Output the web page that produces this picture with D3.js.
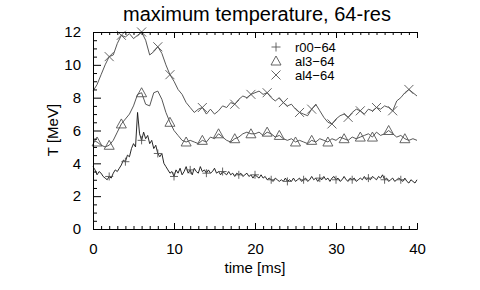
<!DOCTYPE html>
<html><head><meta charset="utf-8">
<script src="https://cdn.jsdelivr.net/npm/d3@7"></script>
<style>body{margin:0;background:#fff}svg{display:block}text{font-family:"Liberation Sans",Arial,sans-serif;fill:#000}</style>
</head><body><svg id="c" width="480" height="290"></svg>
<script>
const times = d3.range(0, 40.01, 0.5);
const timesFine = d3.range(0, 40.001, 0.25);
const al4 = [8.4,8.8,9.4,10.0,10.5,10.6,11.3,11.8,11.7,11.9,11.6,11.8,12.0,11.5,10.6,10.8,11.1,10.7,10.0,9.4,9.0,8.5,8.2,7.7,7.4,7.1,7.3,7.4,7.0,7.3,7.0,7.2,7.5,7.4,7.7,7.6,7.9,8.1,8.0,8.2,8.3,8.4,8.2,8.3,8.0,7.8,8.0,7.7,7.5,7.6,7.3,7.1,7.0,6.9,7.3,7.6,7.2,6.8,6.5,6.4,6.7,6.9,7.0,6.8,7.1,7.3,7.2,7.0,7.3,7.2,7.4,7.3,7.5,7.4,7.2,7.8,8.0,8.3,8.5,8.3,8.1];
const al3 = [5.4,5.3,5.1,5.0,5.1,5.4,5.9,6.4,6.7,7.0,7.5,8.2,8.3,7.6,7.5,8.3,8.4,7.9,7.1,6.5,6.0,5.7,5.4,5.3,5.4,5.3,5.2,5.4,5.3,5.6,5.5,5.8,5.6,5.4,5.3,5.5,5.6,5.8,5.9,5.8,5.8,5.9,5.7,5.9,5.8,5.6,5.7,5.5,5.4,5.5,5.3,5.4,5.3,5.2,5.4,5.3,5.5,5.4,5.3,5.5,5.4,5.6,5.5,5.4,5.6,5.5,5.6,5.7,5.8,5.6,5.9,5.7,5.8,6.0,5.8,5.6,5.7,5.5,5.4,5.5,5.4];
const r00 = [3.8,3.6,3.3,3.5,3.4,3.2,3.1,3.0,3.2,
  3.1,3.4,3.6,3.5,3.7,3.9,4.2,4.1,
  4.5,4.4,4.9,5.2,5.0,7.1,5.8,5.4,
  5.9,5.5,5.7,5.2,5.4,4.9,5.1,4.6,
  4.4,4.6,4.0,3.8,3.6,3.4,3.5,3.2,
  3.6,3.4,3.7,3.3,3.5,3.8,3.4,3.6,
  3.3,3.7,3.5,3.4,3.8,3.5,3.6,3.4,
  3.6,3.4,3.5,3.7,3.4,3.5,3.3,3.5,
  3.4,3.3,3.5,3.3,3.4,3.2,3.4,3.3,
  3.4,3.2,3.3,3.4,3.2,3.3,3.1,3.3,
  3.2,3.1,3.3,3.1,3.2,3.0,3.1,3.0,
  2.9,3.1,3.0,2.9,3.0,2.9,3.1,2.9,
  3.0,2.9,3.1,2.9,3.0,3.1,2.9,3.0,
  3.1,2.9,3.0,3.2,3.0,3.1,2.9,3.1,
  3.0,3.2,3.0,3.1,2.9,3.1,3.2,3.0,
  3.1,2.9,3.0,3.2,3.0,2.9,3.1,3.0,
  3.1,2.9,3.0,3.1,3.0,3.2,3.0,3.1,
  3.0,3.2,3.1,3.0,3.2,3.1,3.3,3.0,
  3.1,2.9,3.0,3.1,2.9,3.0,3.1,3.0,
  2.9,3.1,2.9,2.8,3.0,2.9,2.8,3.0];
const markAl4 = [2,3.5,6,8,9.5,13.5,17.5,19.5,21.5,23.5,25.5,27,29.5,31.5,33,35,37,39];
const markAl3 = [0.5,2,3.5,6,9.5,11.5,13.5,15.5,17.5,19.5,21.5,23,25,27,29,31,33,34.5,36.5,38.5];
const markR00 = [2,4,6,8,10,12,14,16,18,20,22,24,26,28,30,32,34,36,38];
const seriesNames = ["r00\u221264","al3\u221264","al4\u221264"];
const xTicks = [0,10,20,30,40];
const yTicks = [0,2,4,6,8,10,12];

const svg = d3.select("#c");
const x = d3.scaleLinear().domain([0,40]).range([93,417]);
const y = d3.scaleLinear().domain([0,12]).range([229,32]);

const line = d3.line().x((d,i)=>x(times[i])).y(d=>y(d));
const lineFine = d3.line().x((d,i)=>x(timesFine[i])).y(d=>y(d));
const idx = t => Math.round(t/0.5);
const idxF = t => Math.round(t/0.25);

function axisBits(){
  svg.append("g").attr("transform",`translate(0,${y(0)})`)
    .call(d3.axisBottom(x).tickValues(d3.range(0,41,1).filter(v=>v%10)).tickSize(-3).tickFormat(""))
    .call(g=>g.select(".domain").remove());
  svg.append("g").attr("transform",`translate(0,${y(0)})`)
    .call(d3.axisBottom(x).tickValues(xTicks).tickSize(-6).tickPadding(14).tickFormat(d3.format("d")))
    .call(g=>g.selectAll("text").attr("font-size",15).attr("font-family","Liberation Sans, Arial, sans-serif"));
  svg.append("g").attr("transform",`translate(0,${y(12)})`)
    .call(d3.axisTop(x).tickValues(d3.range(0,41,1).filter(v=>v%10)).tickSize(-3).tickFormat(""))
    .call(g=>g.select(".domain").remove());
  svg.append("g").attr("transform",`translate(0,${y(12)})`)
    .call(d3.axisTop(x).tickValues(xTicks).tickSize(-6).tickFormat(""));
  svg.append("g").attr("transform",`translate(${x(0)},0)`)
    .call(d3.axisLeft(y).tickValues(d3.range(0,12.01,0.5).filter(v=>v%2)).tickSize(-4).tickFormat(""))
    .call(g=>g.select(".domain").remove());
  svg.append("g").attr("transform",`translate(${x(0)},0)`)
    .call(d3.axisLeft(y).tickValues(yTicks).tickSize(-8).tickPadding(12).tickFormat(d3.format("d")))
    .call(g=>g.selectAll("text").attr("font-size",15).attr("font-family","Liberation Sans, Arial, sans-serif"));
  svg.selectAll(".domain").attr("stroke","#000");
  svg.selectAll(".tick line").attr("stroke","#000");
}

svg.append("path").datum(al4).attr("d",line).attr("fill","none").attr("stroke","#444").attr("stroke-width",0.9);
svg.append("path").datum(al3).attr("d",line).attr("fill","none").attr("stroke","#444").attr("stroke-width",0.9);
svg.append("path").datum(r00).attr("d",lineFine).attr("fill","none").attr("stroke","#111").attr("stroke-width",0.9);

const mc = "#555";
function cross(t,v,s){ const cx=x(t),cy=y(v); svg.append("path").attr("d",`M${cx-s},${cy-s}L${cx+s},${cy+s}M${cx-s},${cy+s}L${cx+s},${cy-s}`).attr("stroke",mc).attr("fill","none").attr("stroke-width",0.9);}
function plus(t,v,s){ const cx=x(t),cy=y(v); svg.append("path").attr("d",`M${cx-s},${cy}L${cx+s},${cy}M${cx},${cy-s}L${cx},${cy+s}`).attr("stroke",mc).attr("fill","none").attr("stroke-width",0.9);}
function tri(t,v,s){ const cx=x(t),cy=y(v); svg.append("path").attr("d",`M${cx},${cy-s}L${cx+s},${cy+s*0.8}L${cx-s},${cy+s*0.8}Z`).attr("stroke",mc).attr("fill","none").attr("stroke-width",0.9);}
markAl4.forEach(t=>cross(t,al4[idx(t)],4.5));
markAl3.forEach(t=>tri(t,al3[idx(t)],5));
markR00.forEach(t=>plus(t,r00[idxF(t)],4));

axisBits();

svg.append("text").attr("x",257).attr("y",21).attr("text-anchor","middle").attr("font-size",20).text("maximum temperature, 64-res");
svg.append("text").attr("x",255).attr("y",273).attr("text-anchor","middle").attr("font-size",15).text("time [ms]");
svg.append("text").attr("transform","translate(58,130) rotate(-90)").attr("text-anchor","middle").attr("font-size",15).text("T [MeV]");

const lg = [{n:seriesNames[0],f:plus},{n:seriesNames[1],f:tri},{n:seriesNames[2],f:cross}];
lg.forEach((d,i)=>{
  const ly = 47 + i*14;
  d.f(x.invert(276), y.invert(ly), d.f===tri?5:4.5);
  svg.append("text").attr("x",295).attr("y",ly+4.5).attr("font-size",13).text(d.n);
});
</script></body></html>
